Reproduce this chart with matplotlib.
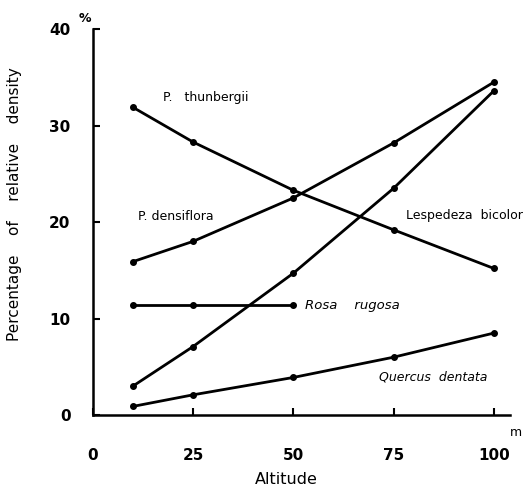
import matplotlib
matplotlib.use("Agg")
import matplotlib.pyplot as plt

# Datos
altitude = [10, 25, 50, 75, 100]
thunbergii = [31.9, 28.3, 23.3, 19.2, 15.2]
densiflora = [15.9, 18.0, 22.5, 28.2, 34.5]
lespedeza = [3.0, 7.1, 14.7, 23.5, 33.6]
rosa_alt = [10, 25, 50]
rosa = [11.4, 11.4, 11.4]
quercus = [0.9, 2.1, 3.9, 6.0, 8.5]

x_ticks = [0, 25, 50, 75, 100]
y_ticks = [0, 10, 20, 30, 40]

fig = plt.figure(figsize=(5.30, 4.93), dpi=100)
ax = fig.add_axes([0.175, 0.158, 0.787, 0.783])

kw = dict(color="black", linewidth=2, marker="o", markersize=4)
ax.plot(altitude, thunbergii, **kw)
ax.plot(altitude, densiflora, **kw)
ax.plot(altitude, lespedeza, **kw)
ax.plot(rosa_alt, rosa, **kw)
ax.plot(altitude, quercus, **kw)

ax.set_xlim(0, 104)
ax.set_ylim(0, 40)
ax.spines["top"].set_visible(False)
ax.spines["right"].set_visible(False)
ax.spines["left"].set_linewidth(1.8)
ax.spines["bottom"].set_linewidth(1.8)

ax.set_xticks(x_ticks)
ax.set_yticks(y_ticks)
ax.set_xticklabels([str(v) for v in x_ticks], fontweight="bold", fontsize=11)
ax.set_yticklabels([str(v) for v in y_ticks], fontweight="bold", fontsize=11)
ax.tick_params(axis="x", direction="in", length=5, width=1.5, pad=24)
ax.tick_params(axis="y", direction="in", length=5, width=1.5, pad=16)

# Etiquetas de ejes
ax.set_xlabel("Altitude", fontsize=11.5)
ax.set_ylabel("Percentage    of    relative    density", fontsize=11)
ax.xaxis.set_label_coords(0.465, -0.148)
ax.yaxis.set_label_coords(-0.17, 0.547)
fig.text(0.148, 0.955, "%", fontsize=9, fontweight="bold")
fig.text(0.962, 0.115, "m", fontsize=9)

# Nombres de especies
ax.text(17.5, 32.5, "P.   thunbergii", fontsize=9)
ax.text(11.3, 20.2, "P. densiflora", fontsize=9)
ax.text(78, 20.3, "Lespedeza  bicolor", fontsize=9)
ax.text(53, 11.0, "Rosa    rugosa", fontsize=9.5, style="italic")
ax.text(71.3, 3.6, "Quercus  dentata", fontsize=9, style="italic")

fig.savefig("out.png", dpi=100)
